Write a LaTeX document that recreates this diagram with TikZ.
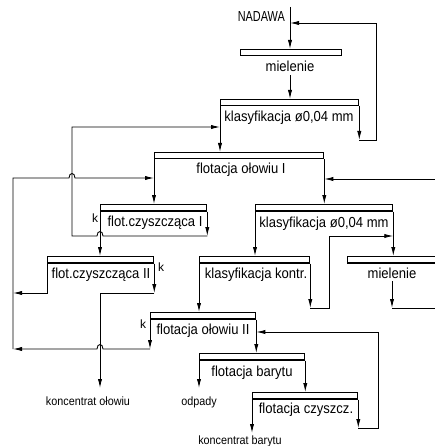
\documentclass[tikz,border=0pt]{standalone}
\usepackage{fontspec}
\setmainfont{Liberation Sans}
\usetikzlibrary{arrows.meta}
\newcommand\cad[2][0.9]{\scalebox{#1}[1]{#2}}
\tikzset{
	bar/.style={draw, line width=1.3pt, fill=white, minimum height=6.2pt,
			inner sep=0pt, anchor=north west},
	lbl/.style={anchor=base, inner sep=0pt, font=\fontsize{14.5}{16}\selectfont},
	small/.style={anchor=base, inner sep=0pt, font=\fontsize{12}{14}\selectfont},
	flow/.style={line width=0.85pt},
	>={Latex[length=9pt,width=4.2pt]}
}

\begin{document}
\begin{tikzpicture}[x=1pt,y=-1pt]
			\useasboundingbox (0,0) rectangle (435,446);

			% Bars of the machines
			\node[bar, minimum width=101pt] (mil1) at (240,49) {};
			\node[bar, minimum width=138pt] (kl1) at (220,99) {};
			\node[bar, minimum width=169pt] (fo1) at (154,152) {};
			\node[bar, minimum width=106pt] (fc1) at (100,204) {};
			\node[bar, minimum width=137pt] (kl2) at (255,204) {};
			\node[bar, minimum width=106pt] (fc2) at (47,256) {};
			\node[bar, minimum width=110pt] (klk) at (199,256) {};
			\node[bar, minimum width=100pt] (mil2) at (347,256) {};
			\node[bar, minimum width=105pt] (fo2) at (150,312) {};
			\node[bar, minimum width=105pt] (fb) at (199,353) {};
			\node[bar, minimum width=105pt] (fcz) at (252,392) {};

			% Texts
			\node[lbl, anchor=base east] (nadawa) at (285,22) {\cad[0.75]{NADAWA}};
			\node[lbl] (mil1t) at (290,72) {\cad{mielenie}};
			\node[lbl] (kl1t) at (289,122) {\cad{klasyfikacja ø0,04 mm}};
			\node[lbl] (fo1t) at (241,174) {\cad{flotacja ołowiu I}};
			\node[lbl] (fc1t) at (155,226) {\cad{flot.czyszcząca I}};
			\node[lbl] (kl2t) at (324,227) {\cad{klasyfikacja ø0,04 mm}};
			\node[lbl] (fc2t) at (101,278) {\cad{flot.czyszcząca II}};
			\node[lbl] (klkt) at (256,278) {\cad{klasyfikacja kontr.}};
			\node[lbl] (mil2t) at (392,278) {\cad{mielenie}};
			\node[lbl] (fo2t) at (203,334) {\cad{flotacja ołowiu II}};
			\node[lbl] (fbt) at (252,376) {\cad{flotacja barytu}};
			\node[lbl] (fczt) at (306,413) {\cad{flotacja czyszcz.}};
			\node[small] (konpb) at (88,405) {\cad{koncentrat ołowiu}};
			\node[small] (odp) at (199,405) {\cad{odpady}};
			\node[small] (konba) at (240,444) {\cad{koncentrat barytu}};
			\node[small] (ka) at (95,222) {k};
			\node[small] (kb) at (161,271) {k};
			\node[small] (kc) at (143,328) {k};

			% Corners of the lines
			\coordinate (in0) at (290,7);
			\coordinate (r1) at (376,140);
			\coordinate (r2) at (376,23);
			\coordinate (l1) at (72,236);
			\coordinate (l2) at (72,127);
			\coordinate (l3) at (13,178);
			\coordinate (l4) at (13,349);
			\coordinate (l5) at (13,293);
			\coordinate (e1) at (435,179);
			\coordinate (e2) at (435,308);
			\coordinate (k1) at (100,293);
			\coordinate (kp) at (100,388);
			\coordinate (r3) at (329,308);
			\coordinate (r4) at (329,236);
			\coordinate (r5) at (378,428);
			\coordinate (r6) at (378,332);
			\coordinate (od) at (199,388);
			\coordinate (kb0) at (252,433);

			% Feed and grinding
			\draw[flow,->] (in0) -- (in0 |- mil1.north);
			\draw[flow,->] ([yshift=-3pt]mil1t.south) -- (mil1t.south |- kl1.north);

			% Classification 1
			\draw[flow,->] (kl1.south west) -- (kl1.south west |- fo1.north);
			\draw[flow,->] (kl1.south east) -- (kl1.south east |- r1);
			\draw[flow,->] (kl1.south east |- r1) -- (r1) -- (r2) -- (r2 -| in0);

			% Lead flotation I
			\draw[flow,->] (fo1.south west) -- (fo1.south west |- fc1.north);
			\draw[flow,->] (fo1.south east) -- (fo1.south east |- kl2.north);
			\draw[flow,->] (e1) -- (e1 -| fo1.east);
			\draw[flow,->] (l4) -- (l3) -- (69,178) .. controls (69,172) and (75,172) .. (75,178) -- (l3 -| fo1.west);

			% Cleaning I
			\draw[flow,->] (fc1.south west) -- (fc1.south west |- fc2.north);
			\draw[flow,->] (fc1.south east) -- (fc1.south east |- l1);
			\draw[flow,->] (fc1.south east |- l1) -- (103,236) .. controls (103,230) and (97,230) .. (97,236) -- (l1) -- (l2) -- (l2 -| kl1.west);

			% Cleaning II
			\draw[flow,->] (fc2.south west) -- (fc2.south west |- l5) -- (l5);
			\draw[flow,->] (fc2.south east) -- (fc2.south east |- k1);
			\draw[flow,->] (fc2.south east |- k1) -- (k1) -- (kp);

			% Classification 2 and regrinding
			\draw[flow,->] (kl2.south west) -- (kl2.south west |- klk.north);
			\draw[flow,->] (kl2.south east) -- (kl2.south east |- mil2.north);
			\draw[flow,->] (klk.south west) -- (klk.south west |- fo2.north);
			\draw[flow,->] (klk.south east) -- (klk.south east |- r3);
			\draw[flow,->] (klk.south east |- r3) -- (r3) -- (r4) -- (r4 -| kl2.east);
			\draw[flow,->] ([yshift=-3pt]mil2t.south) -- (mil2t.south |- e2);
			\draw[flow] (mil2t.south |- e2) -- (e2);

			% Lead flotation II
			\draw[flow,->] (fo2.south west) -- (fo2.south west |- l4);
			\draw[flow,->] (fo2.south west |- l4) -- (103,349) .. controls (103,343) and (97,343) .. (97,349) -- (l4);
			\draw[flow,->] (fo2.south east) -- (fo2.south east |- fb.north);

			% Barite flotation
			\draw[flow,->] (fb.south west) -- (od);
			\draw[flow,->] (fb.south east) -- (fb.south east |- fcz.north);
			\draw[flow,->] (fcz.south west) -- (kb0);
			\draw[flow,->] (fcz.south east) -- (fcz.south east |- r5);
			\draw[flow,->] (fcz.south east |- r5) -- (r5) -- (r6) -- (r6 -| fo2.east);
		\end{tikzpicture}
\end{document}
